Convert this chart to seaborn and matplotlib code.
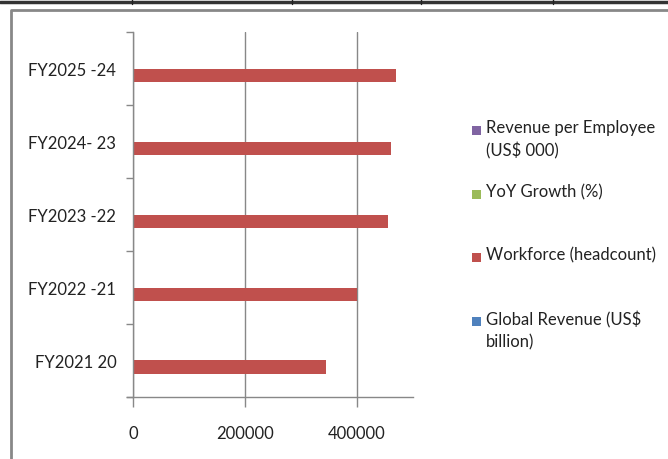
import numpy as np
import pandas as pd
import matplotlib
matplotlib.use("Agg")
import matplotlib.pyplot as plt
from matplotlib.patches import Rectangle
from matplotlib.lines import Line2D
import seaborn as sns

## Data ##
years = ["FY2025 -24", "FY2024- 23", "FY2023 -22", "FY2022 -21", "FY2021 20"]
global_revenue = [30, 29, 27.9, 25.7, 22.2]          # US$ billion
workforce = [470000, 460000, 456000, 400000, 345000]  # headcount
yoy_growth = [3.4, 4.1, 8.6, 15.8, 4.6]               # %
rev_per_employee = [64, 63, 61, 64, 64]               # US$ 000

series_names = ["Revenue per Employee\n(US$ 000)", "YoY Growth (%)",
                "Workforce (headcount)", "Global Revenue (US$\nbillion)"]
series_values = [rev_per_employee, yoy_growth, workforce, global_revenue]
series_colors = ["#8064A2", "#9BBB59", "#C0504D", "#4F81BD"]

rows = []
for name, vals in zip(series_names, series_values):
    for yr, v in zip(years, vals):
        rows.append({"Year": yr, "Series": name, "Value": v})
df = pd.DataFrame(rows)

## Style ##
sns.set_style("white")
plt.rcParams["font.family"] = ["Lato", "DejaVu Sans"]

W, H = 668, 460
fig = plt.figure(figsize=(W / 100, H / 100), dpi=100)
ax = fig.add_axes([133 / W, (H - 398) / H, (413 - 133) / W, (398 - 33) / H])

sns.barplot(data=df, y="Year", x="Value", hue="Series", order=years,
            hue_order=series_names, palette=series_colors, orient="h",
            width=0.73, gap=0, saturation=1, linewidth=0, legend=False, ax=ax)

grid_c = "#888888"
ax.set_xlim(0, 500000)
ax.set_ylim(4.5, -0.5)
ax.set_xticks([0, 200000, 400000])
ax.set_xticklabels(["0", "200000", "400000"])
ax.xaxis.grid(True, color=grid_c, linewidth=1)
ax.set_axisbelow(True)
ax.set_xlabel("")
ax.set_ylabel("")

for s in ["top", "right"]:
    ax.spines[s].set_visible(False)
for s in ["left", "bottom"]:
    ax.spines[s].set_color(grid_c)
    ax.spines[s].set_linewidth(1)

ax.tick_params(axis="x", length=7, width=1, color=grid_c, pad=13,
               labelsize=12, labelcolor="#222222", bottom=True)
ax.tick_params(axis="y", which="major", length=0, pad=12,
               labelsize=12, labelcolor="#222222")
ax.set_yticks(np.arange(-0.5, 5.0, 1.0), minor=True)
ax.tick_params(axis="y", which="minor", length=5, width=1, color=grid_c, left=True)
ax.spines["bottom"].set_bounds(0 - 500000 * 6 / 280, 500000)
ax.spines["bottom"].set_clip_on(False)

## Legend (drawn like the office chart) ##
leg_y = [131, 195, 258, 322]
for name, col, y in zip(series_names, series_colors, leg_y):
    fig.add_artist(Rectangle((472 / W, 1 - (y + 4.5) / H), 9 / W, 9 / H,
                             transform=fig.transFigure, facecolor=col,
                             edgecolor="none"))
    fig.text(486 / W, 1 - (y - 11) / H, name, ha="left", va="top",
             fontsize=12, color="#222222", linespacing=1.45)

## Chart frame and table remnants ##
fig.add_artist(Line2D([11 / W, 11 / W, 1.01], [-0.01, 1 - 11 / H, 1 - 11 / H],
                      transform=fig.transFigure, color="#888888", linewidth=2))
fig.add_artist(Line2D([0, 1], [1 - 3 / H, 1 - 3 / H], transform=fig.transFigure,
                      color="#333333", linewidth=2.5))
for xv in [132, 292, 421, 553]:
    fig.add_artist(Line2D([xv / W, xv / W], [1, 1 - 5 / H],
                          transform=fig.transFigure, color="#222222", linewidth=1))

fig.savefig("out.png", dpi=100)
